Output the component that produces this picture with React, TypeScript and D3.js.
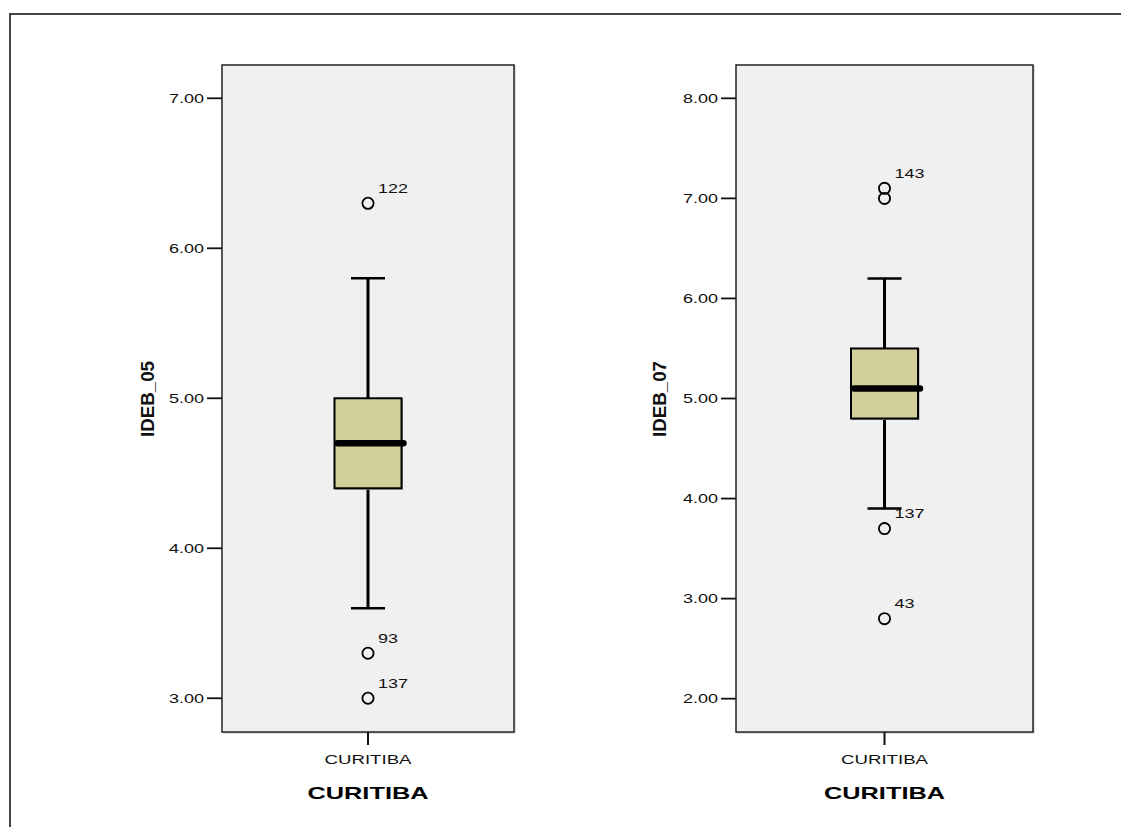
import React from "react";
import * as d3 from "d3";

// ---- data ----
const categories = ["CURITIBA"];
const variableNames = ["IDEB_05", "IDEB_07"];
// [lower whisker, Q1, median, Q3, upper whisker]
const ideb05Stats = [3.6, 4.4, 4.7, 5.0, 5.8];
const ideb07Stats = [3.9, 4.8, 5.1, 5.5, 6.2];
const ideb05Outliers = [6.3, 3.3, 3.0];
const ideb05OutlierIds = ["122", "93", "137"];
const ideb07Outliers = [7.1, 7.0, 3.7, 2.8];
const ideb07OutlierIds = ["143", "", "137", "43"];
const ideb05Ticks = [3, 4, 5, 6, 7];
const ideb07Ticks = [2, 3, 4, 5, 6, 7, 8];
const ideb05Domain = [2.775, 7.222];
const ideb07Domain = [1.667, 8.333];

const FONT = "'Liberation Sans', Arial, sans-serif";
const NARROW = "'Liberation Sans Narrow', 'Arial Narrow', 'Liberation Sans', sans-serif";
const BOX_FILL = "#d3cf9a";

type PanelProps = {
  name: string;
  stats: number[];
  outliers: number[];
  ids: string[];
  ticks: number[];
  domain: number[];
  x0: number;
  x1: number;
  titleX: number;
};

function Panel({ name, stats, outliers, ids, ticks, domain, x0, x1, titleX }: PanelProps) {
  const top = 65;
  const bottom = 732;
  const y = d3.scaleLinear().domain(domain).range([bottom, top]);
  const x = d3.scaleBand().domain(categories).range([x0, x1]).paddingInner(0).paddingOuter(0);
  const cx = (x(categories[0]) as number) + x.bandwidth() / 2;
  const boxW = 67;
  const capW = 34;
  const [lo, q1, med, q3, hi] = stats;
  const fmt = d3.format(".2f");
  return (
    <g>
      {/* plot background */}
      <rect x={x0 + 1} y={top + 1} width={x1 - x0} height={bottom - top} fill="none" stroke="#bbb" strokeWidth={1} />
      <rect x={x0} y={top} width={x1 - x0} height={bottom - top} fill="#f0f0f0" stroke="#222" strokeWidth={1.5} />
      {/* y ticks */}
      {ticks.map((t) => (
        <g key={t}>
          <line x1={x0 - 15} x2={x0} y1={y(t)} y2={y(t)} stroke="#111" strokeWidth={1.8} />
          <text
            x={x0 - 18}
            y={y(t)}
            dy="0.35em"
            textAnchor="end"
            fontFamily={FONT}
            fontSize={13.5}
            fill="#111"
            textLength={35}
            lengthAdjust="spacingAndGlyphs"
          >
            {fmt(t)}
          </text>
        </g>
      ))}
      {/* y title */}
      <text
        transform={`translate(${titleX},${399}) rotate(-90)`}
        textAnchor="middle"
        fontFamily={NARROW}
        fontWeight="bold"
        fontSize={19}
        fill="#111"
        textLength={76}
        lengthAdjust="spacingAndGlyphs"
      >
        {name}
      </text>
      {/* x tick */}
      <line x1={cx} x2={cx} y1={bottom} y2={bottom + 13} stroke="#111" strokeWidth={2} />
      <text
        x={cx}
        y={764}
        textAnchor="middle"
        fontFamily={FONT}
        fontSize={12.5}
        fill="#111"
        textLength={87}
        lengthAdjust="spacingAndGlyphs"
      >
        {categories[0]}
      </text>
      <text
        x={cx}
        y={799}
        textAnchor="middle"
        fontFamily={FONT}
        fontWeight="bold"
        fontSize={17}
        fill="#000"
        textLength={121}
        lengthAdjust="spacingAndGlyphs"
      >
        {categories[0]}
      </text>
      {/* whiskers */}
      <line x1={cx} x2={cx} y1={y(hi)} y2={y(q3)} stroke="#000" strokeWidth={3} />
      <line x1={cx} x2={cx} y1={y(q1)} y2={y(lo)} stroke="#000" strokeWidth={3} />
      <line x1={cx - capW / 2} x2={cx + capW / 2} y1={y(hi)} y2={y(hi)} stroke="#000" strokeWidth={2.5} />
      <line x1={cx - capW / 2} x2={cx + capW / 2} y1={y(lo)} y2={y(lo)} stroke="#000" strokeWidth={2.5} />
      {/* box */}
      <rect
        x={cx - boxW / 2 + 1}
        y={y(q3) + 1}
        width={boxW}
        height={y(q1) - y(q3)}
        fill="none"
        stroke="#999"
        strokeWidth={1}
      />
      <rect
        x={cx - boxW / 2}
        y={y(q3)}
        width={boxW}
        height={y(q1) - y(q3)}
        fill={BOX_FILL}
        stroke="#000"
        strokeWidth={2}
      />
      {/* median */}
      <line
        x1={cx - boxW / 2 + 3}
        x2={cx + boxW / 2 + 2}
        y1={y(med)}
        y2={y(med)}
        stroke="#000"
        strokeWidth={6.5}
        strokeLinecap="round"
      />
      {/* outliers */}
      {outliers.map((v, i) => (
        <g key={i}>
          <circle cx={cx} cy={y(v)} r={5.6} fill="none" stroke="#000" strokeWidth={1.8} />
          {ids[i] ? (
            <text
              x={cx + 10}
              y={y(v) - 10.5}
              fontFamily={FONT}
              fontSize={13}
              fill="#111"
              textLength={ids[i].length * 10}
              lengthAdjust="spacingAndGlyphs"
            >
              {ids[i]}
            </text>
          ) : null}
        </g>
      ))}
    </g>
  );
}

export default function App() {
  return (
    <svg
      width={1122}
      height={827}
      style={{ position: "absolute", left: 0, top: 0, background: "#fff" }}
    >
      <rect x={0} y={0} width={1122} height={827} fill="#fff" />
      <path d="M10,830 L10,14 L1121,14" fill="none" stroke="#444" strokeWidth={2} />
      <Panel
        name={variableNames[0]}
        stats={ideb05Stats}
        outliers={ideb05Outliers}
        ids={ideb05OutlierIds}
        ticks={ideb05Ticks}
        domain={ideb05Domain}
        x0={222}
        x1={514}
        titleX={154}
      />
      <Panel
        name={variableNames[1]}
        stats={ideb07Stats}
        outliers={ideb07Outliers}
        ids={ideb07OutlierIds}
        ticks={ideb07Ticks}
        domain={ideb07Domain}
        x0={736}
        x1={1033}
        titleX={666}
      />
    </svg>
  );
}
